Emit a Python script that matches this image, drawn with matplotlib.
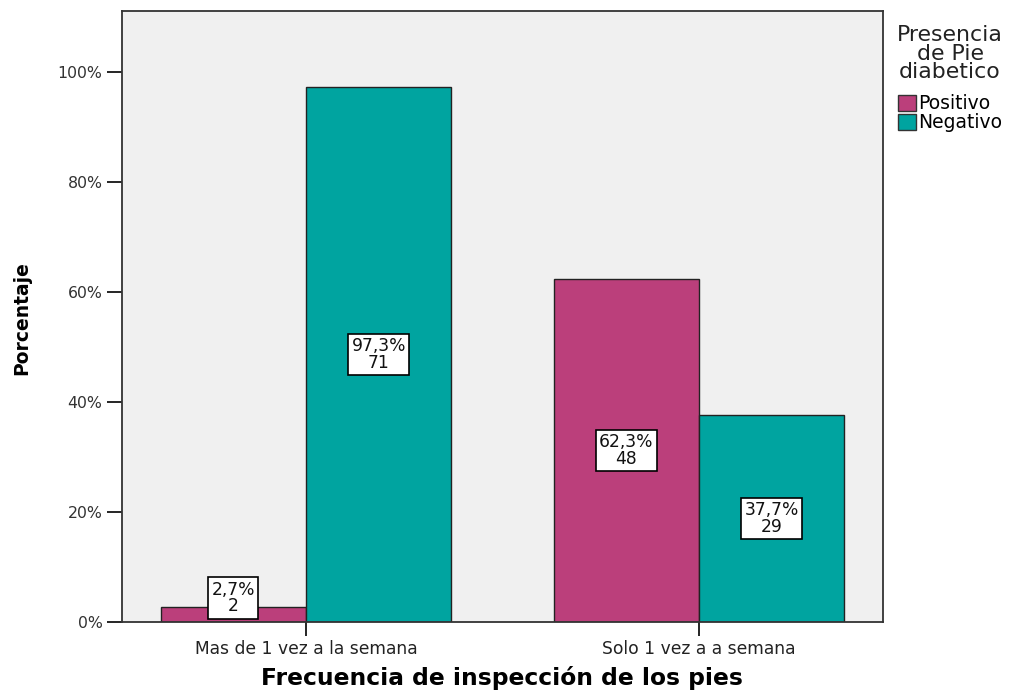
import numpy as np
import matplotlib
matplotlib.use("Agg")
import matplotlib.pyplot as plt

plt.rcParams['font.family'] = ['DejaVu Sans']

categorias = ['Mas de 1 vez a la semana', 'Solo 1 vez a a semana']
series = ['Positivo', 'Negativo']
porcentajes = [[2.7, 62.3], [97.3, 37.7]]
conteos = [[2, 48], [71, 29]]
colores = ['#BB3F7B', '#00A4A0']

W, H = 1009, 693
fig = plt.figure(figsize=(W / 100, H / 100), dpi=100)
ax = fig.add_axes([122 / W, 1 - 622 / H, 761 / W, 611 / H])
ax.set_facecolor('#F0F0F0')

x = np.arange(len(categorias))
w = 0.37
for i, s in enumerate(series):
    pos = x + (i - 0.5) * w
    ax.bar(pos, porcentajes[i], width=w, color=colores[i], edgecolor='#222222',
           linewidth=1.0, label=s, zorder=2)
    for xp, v, n in zip(pos, porcentajes[i], conteos[i]):
        # etiqueta al centro de la barra, o encima si la barra es muy baja
        y = v / 2 if v > 8 else v + 1.7
        txt = f"{v:.1f}%".replace('.', ',') + f"\n{n}"
        ax.text(xp, y, txt, ha='center', va='center', fontsize=12.3, color='#111111',
                linespacing=0.9, zorder=3,
                bbox=dict(boxstyle='square,pad=0.2', fc='white', ec='black', lw=1.2))

ax.set_xlim(-0.468, 1.468)
ax.set_ylim(0, 111.1)
ax.set_yticks([0, 20, 40, 60, 80, 100])
ax.set_yticklabels(['0%', '20%', '40%', '60%', '80%', '100%'], fontsize=11.3, color='#333333')
ax.set_xticks(x)
ax.set_xticklabels(categorias, fontsize=12.3, color='#222222')
ax.tick_params(axis='y', direction='out', length=11, width=1.2, pad=3)
ax.tick_params(axis='x', direction='out', length=10, width=1.2, pad=3)
for sp in ax.spines.values():
    sp.set_linewidth(1.3)
    sp.set_color('#333333')

fig.text(22 / W, 1 - 318 / H, 'Porcentaje', rotation=90, ha='center', va='center',
         fontsize=13.5, fontweight='bold')
fig.text(502 / W, 1 - 678 / H, 'Frecuencia de inspección de los pies', ha='center',
         va='center', fontsize=16.8, fontweight='bold')

leg = fig.legend(title='Presencia\nde Pie\ndiabetico', loc='upper left',
                 bbox_to_anchor=(884 / W, 1 - 12 / H), frameon=False, fontsize=13.5,
                 title_fontsize=15.8, handlelength=0.95, handleheight=0.95,
                 handletextpad=0.1, labelspacing=0.0, borderpad=0.2)
leg.get_title().set_multialignment('center')
leg.get_title().set_linespacing(0.9)
leg.get_title().set_color('#222222')
leg._legend_box.sep = 9
for h in leg.legend_handles:
    h.set_edgecolor('#333333')

fig.savefig('out.png', dpi=100)
